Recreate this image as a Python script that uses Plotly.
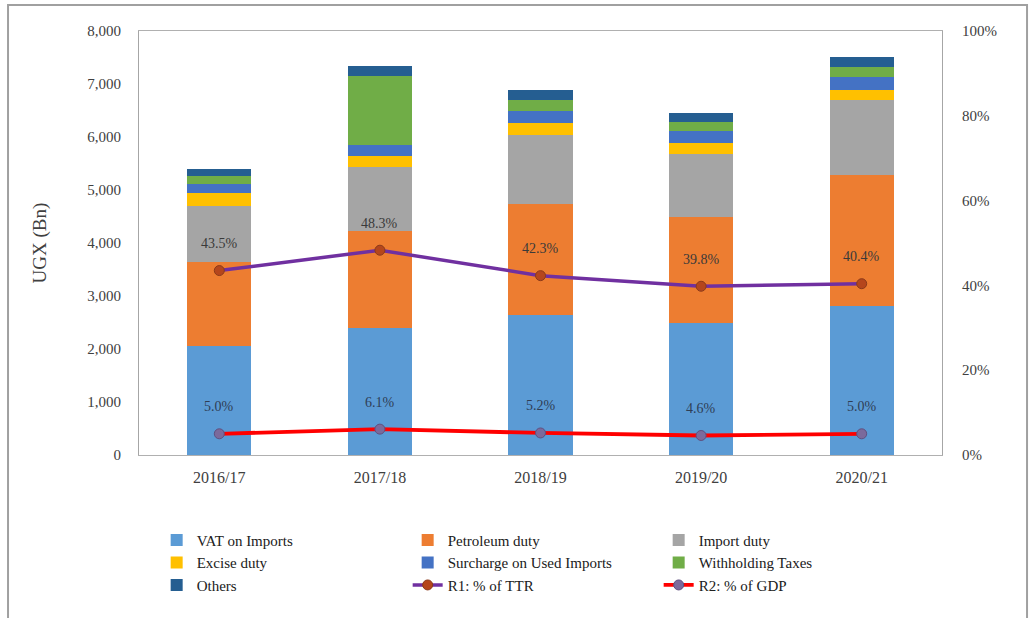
import plotly.graph_objects as go

years = ["2016/17", "2017/18", "2018/19", "2019/20", "2020/21"]
vat_imports = [2050, 2400, 2650, 2490, 2820]
petroleum_duty = [1590, 1825, 2085, 2005, 2460]
import_duty = [1050, 1210, 1310, 1190, 1410]
excise_duty = [260, 200, 220, 200, 200]
surcharge_used = [170, 220, 220, 220, 250]
withholding = [150, 1300, 220, 175, 190]
others = [120, 190, 190, 170, 175]
r1_ttr = [43.5, 48.3, 42.3, 39.8, 40.4]
r2_gdp = [5.0, 6.1, 5.2, 4.6, 5.0]

left_ticks = [0, 1000, 2000, 3000, 4000, 5000, 6000, 7000, 8000]
right_ticks = [0, 0.2, 0.4, 0.6, 0.8, 1.0]

FONT = "Liberation Serif"
TXT = "#404040"

bar_series = [
    ("VAT on Imports", vat_imports, "#5B9BD5"),
    ("Petroleum duty", petroleum_duty, "#ED7D31"),
    ("Import duty", import_duty, "#A5A5A5"),
    ("Excise duty", excise_duty, "#FFC000"),
    ("Surcharge on Used Imports", surcharge_used, "#4472C4"),
    ("Withholding Taxes", withholding, "#70AD47"),
    ("Others", others, "#255E91"),
]

fig = go.Figure()
for name, vals, col in bar_series:
    fig.add_trace(go.Bar(x=years, y=vals, name=name, marker=dict(color=col, line=dict(width=0)),
                         width=0.4))

fig.add_trace(go.Scatter(x=years, y=[v / 100 for v in r1_ttr], name="R1: % of TTR", yaxis="y2",
                         mode="lines+markers", line=dict(color="#7030A0", width=3.5),
                         marker=dict(size=10, color="#B5461C", line=dict(color="#8B3A1A", width=1))))
fig.add_trace(go.Scatter(x=years, y=[v / 100 for v in r2_gdp], name="R2: % of GDP", yaxis="y2",
                         mode="lines+markers", line=dict(color="#FF0000", width=3.8),
                         marker=dict(size=10, color="#7B6A9C", line=dict(color="#5F5080", width=1))))

annotations = []
for x, v in zip(years, r1_ttr):
    annotations.append(dict(x=x, y=v / 100, yref="y2", xref="x", text=f"{v:.1f}%", showarrow=False,
                            yshift=27, font=dict(family=FONT, size=14, color="#3A3A3A")))
for x, v in zip(years, r2_gdp):
    annotations.append(dict(x=x, y=v / 100, yref="y2", xref="x", text=f"{v:.1f}%", showarrow=False,
                            yshift=27, font=dict(family=FONT, size=14, color="#2F3E55")))

fig.update_layout(
    width=1033, height=618,
    margin=dict(l=139, r=91, t=31, b=163),
    barmode="stack", bargap=0.6,
    paper_bgcolor="white", plot_bgcolor="white",
    font=dict(family=FONT, size=15, color=TXT),
    xaxis=dict(showgrid=False, showline=True, linecolor="#B0B0B0", mirror=True, linewidth=1,
               ticks="", tickfont=dict(family=FONT, size=16, color=TXT), ticklabelstandoff=8),
    yaxis=dict(range=[0, 8000], tickvals=left_ticks, tickformat=",", showgrid=False,
               showline=True, linecolor="#A6A6A6", mirror=True, linewidth=1, zeroline=False,
               tickfont=dict(family=FONT, size=15, color=TXT), ticklabelstandoff=14,
               title=dict(text="UGX (Bn)", font=dict(family=FONT, size=19, color=TXT), standoff=35)),
    yaxis2=dict(range=[0, 1], tickvals=right_ticks, tickformat=".0%", overlaying="y", side="right",
                showgrid=False, zeroline=False, showline=False,
                tickfont=dict(family=FONT, size=15, color=TXT), ticklabelstandoff=19),
    legend=dict(orientation="h", x=0.022, xanchor="left", y=-0.162, yanchor="top",
                entrywidth=206, traceorder="normal",
                font=dict(family=FONT, size=15, color="#202020"), bgcolor="rgba(0,0,0,0)"),
    annotations=annotations,
    shapes=[dict(type="rect", xref="paper", yref="paper", x0=-0.1631, x1=1.1059, y0=-0.45, y1=1.0613,
                 line=dict(color="#A0A0A0", width=2), fillcolor="rgba(0,0,0,0)", layer="below")],
)

fig.write_html("out.html", config={"displayModeBar": False},
               post_script="document.body.style.margin='0';")
